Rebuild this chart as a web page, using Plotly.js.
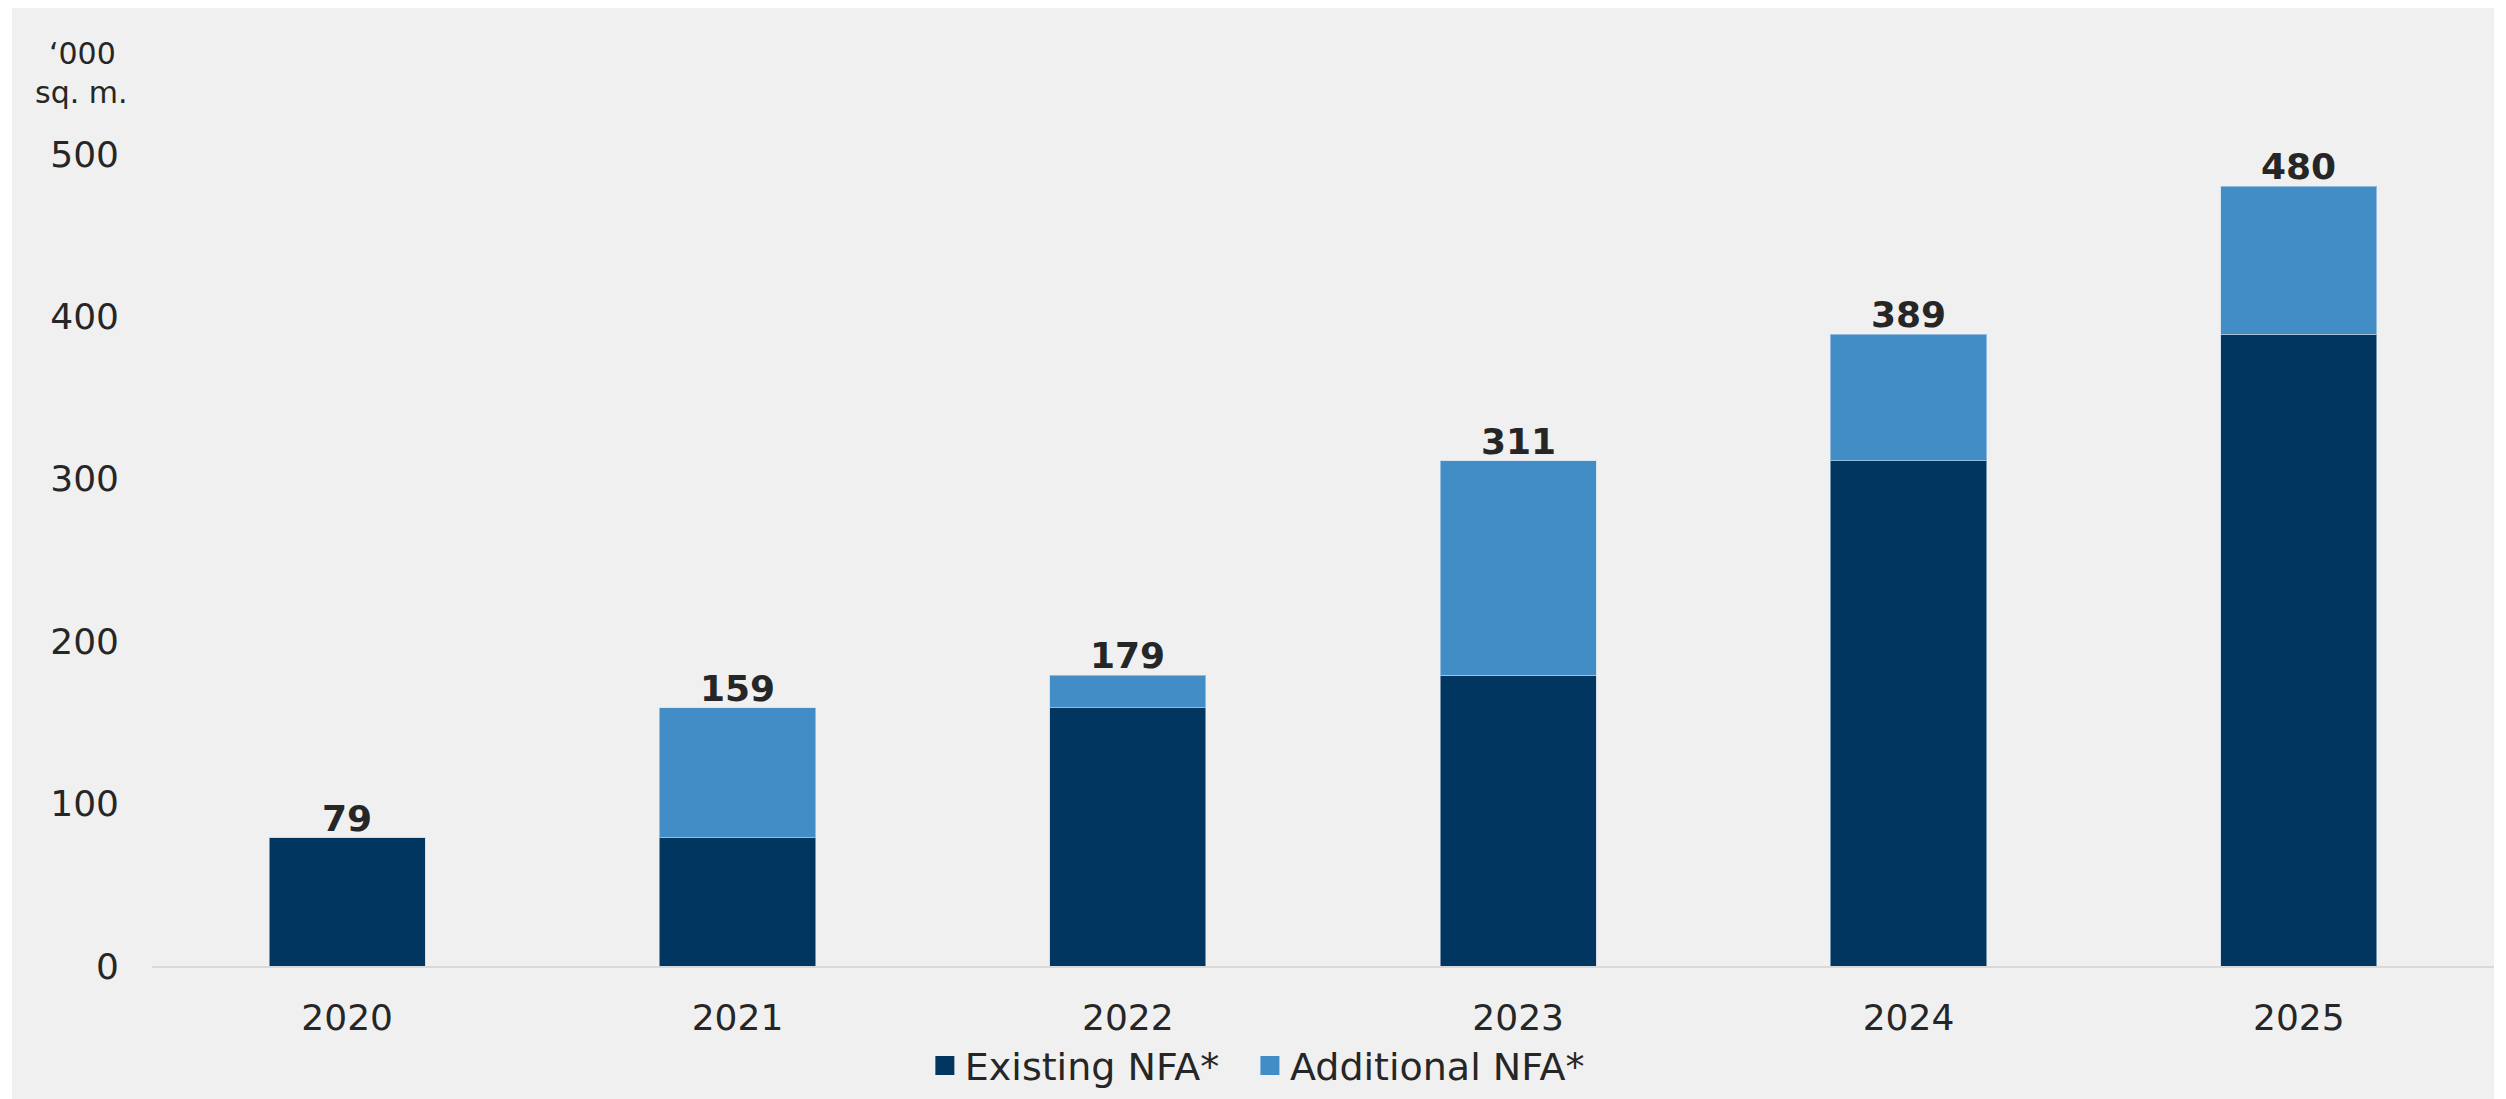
<!DOCTYPE html>
<html>
<head>
<meta charset="utf-8">
<script src="https://cdn.plot.ly/plotly-3.0.1.min.js"></script>
<style>
html,body{margin:0;padding:0;background:#ffffff;}
#chart{position:absolute;left:12px;top:8px;width:2482px;height:1091px;}
</style>
</head>
<body>
<div id="chart"></div>
<script>
const years = ["2020","2021","2022","2023","2024","2025"];
const existingNFA = [79, 79, 159, 179, 311, 389];
const additionalNFA = [0, 80, 20, 132, 78, 91];
const totals = [79, 159, 179, 311, 389, 480];
const seriesNames = ["Existing NFA*", "Additional NFA*"];
const seriesColors = ["#00365f", "#428dc6"];
const yTicks = [0, 100, 200, 300, 400, 500];

const FONT = "DejaVu Sans, Verdana, sans-serif";
const TXT = "#262626";

const traces = [
  {type:"bar", name:seriesNames[0], x:years, y:existingNFA, showlegend:false,
   marker:{color:seriesColors[0], line:{width:1, color:"rgba(200,210,225,0.6)"}}},
  {type:"bar", name:seriesNames[1], x:years, y:additionalNFA, showlegend:false,
   marker:{color:seriesColors[1], line:{width:1, color:"rgba(200,220,240,0.6)"}}},
  {type:"scatter", mode:"markers", name:seriesNames[0], x:[null], y:[null], showlegend:true, legend:"legend",
   marker:{symbol:"square", size:16, color:seriesColors[0], line:{width:3, color:seriesColors[0]}}},
  {type:"scatter", mode:"markers", name:seriesNames[1], x:[null], y:[null], showlegend:true, legend:"legend2",
   marker:{symbol:"square", size:16, color:seriesColors[1], line:{width:3, color:seriesColors[1]}}}
];

const annotations = years.map((yr, i) => ({
  x: i, y: totals[i], xref:"x", yref:"y",
  text: "<b>" + totals[i] + "</b>",
  showarrow:false, xanchor:"center", yanchor:"bottom", yshift:-3,
  font:{family:FONT, size:36, color:TXT}
}));
annotations.push({
  xref:"paper", yref:"paper", x:-0.0295, y:1.124, xanchor:"center", yanchor:"middle",
  text:"‘000", showarrow:false, font:{family:FONT, size:30, color:TXT}
});
annotations.push({
  xref:"paper", yref:"paper", x:-0.0303, y:1.076, xanchor:"center", yanchor:"middle",
  text:"sq. m.", showarrow:false, font:{family:FONT, size:30, color:TXT}
});

const legendBase = {orientation:"h", xanchor:"left", y:-0.123, yanchor:"middle",
  font:{family:FONT, size:38, color:TXT}, bgcolor:"rgba(0,0,0,0)", itemwidth:30};

const layout = {
  width:2482, height:1091,
  paper_bgcolor:"#f0f0f0", plot_bgcolor:"#f0f0f0",
  margin:{l:140, r:0, t:145.7, b:133.3, pad:0},
  barmode:"stack", bargap:0.6,
  font:{family:FONT, size:36, color:TXT},
  showlegend:true,
  legend:Object.assign({}, legendBase, {x:0.33}),
  legend2:Object.assign({}, legendBase, {x:0.4688}),
  xaxis:{type:"category", range:[-0.5, 5.5], showline:true, linecolor:"#d9d9d9", linewidth:2,
         showgrid:false, zeroline:false, ticks:"", ticklabelstandoff:19,
         tickfont:{family:FONT, size:36, color:TXT}},
  yaxis:{range:[0,500], tickvals:yTicks, showline:false, showgrid:false, zeroline:false,
         ticks:"", ticklabelstandoff:32, tickfont:{family:FONT, size:36, color:TXT}},
  annotations: annotations
};

Plotly.newPlot("chart", traces, layout, {staticPlot:true, displayModeBar:false});
</script>
</body>
</html>
